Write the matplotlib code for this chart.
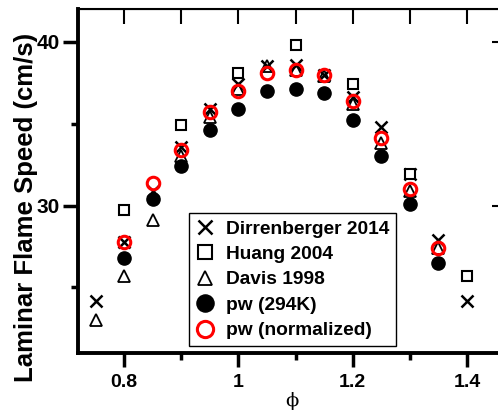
import matplotlib.pyplot as plt
import numpy as np

plt.rcParams['font.family'] = ['Liberation Sans', 'DejaVu Sans']
plt.rcParams['font.weight'] = 'bold'

# equivalence ratio
phi_all = [0.75, 0.8, 0.85, 0.9, 0.95, 1.0, 1.05, 1.1, 1.15, 1.2, 1.25, 1.3, 1.35, 1.4]
dirrenberger = [24.2, 27.8, 30.9, 33.6, 35.9, 37.4, 38.5, 38.6, 38.0, 36.6, 34.8, 31.9, 27.9, 24.2]

phi_huang = [0.8, 0.9, 1.0, 1.1, 1.2, 1.3, 1.4]
huang = [29.7, 34.9, 38.1, 39.8, 37.4, 31.9, 25.7]

phi_davis = [0.75, 0.8, 0.85, 0.9, 0.95, 1.0, 1.05, 1.1, 1.15, 1.2, 1.25, 1.3, 1.35]
davis = [23.0, 25.7, 29.1, 33.0, 35.4, 37.1, 38.5, 38.3, 37.9, 36.2, 33.8, 30.9, 27.4]

phi_pw = [0.8, 0.85, 0.9, 0.95, 1.0, 1.05, 1.1, 1.15, 1.2, 1.25, 1.3, 1.35]
pw_294 = [26.8, 30.4, 32.4, 34.6, 35.9, 37.0, 37.1, 36.9, 35.2, 33.0, 30.1, 26.5]
pw_norm = [27.8, 31.4, 33.4, 35.7, 37.0, 38.1, 38.3, 38.0, 36.4, 34.1, 31.0, 27.4]

fig = plt.figure(figsize=(4.98, 4.12), dpi=100)
ax = fig.add_axes([78/498, 59/412, 422/498, 344/412])

ax.plot(phi_pw, pw_294, "o", color="black", ms=9.5, label="pw (294K)", zorder=3)
ax.plot(phi_all, dirrenberger, "x", color="black", ms=8, mew=1.8, label="Dirrenberger 2014", zorder=4)
ax.plot(phi_huang, huang, "s", mfc="white", mec="black", ms=7.5, mew=1.5, label="Huang 2004", zorder=4)
ax.plot(phi_davis, davis, "^", mfc="none", mec="black", ms=8, mew=1.3, label="Davis 1998", zorder=4)
ax.plot(phi_pw, pw_norm, "o", mfc="none", mec="red", ms=9, mew=2.2, label="pw (normalized)", zorder=5)

ax.set_xlim(0.719, 1.458)
ax.set_ylim(21.0, 42.0)
ax.set_xticks([0.8, 1.0, 1.2, 1.4])
ax.set_xticklabels(["0.8", "1", "1.2", "1.4"])
ax.set_xticks([0.9, 1.1, 1.3], minor=True)
ax.set_yticks([30, 40])
ax.set_yticks([25, 35], minor=True)

ax.tick_params(axis="x", which="major", direction="out", length=10, width=2.5, labelsize=14, pad=5)
ax.tick_params(axis="x", which="minor", direction="out", length=5, width=2.5)
ax.tick_params(axis="y", which="major", direction="out", length=11, width=2.5, labelsize=15, pad=2)
ax.tick_params(axis="y", which="minor", direction="out", length=5, width=2.5)

for s in ["left", "bottom"]:
    ax.spines[s].set_linewidth(2.8)
for s in ["top", "right"]:
    ax.spines[s].set_linewidth(1.5)

# mirrored ticks on top and right pointing inward
top = ax.secondary_xaxis("top")
top.set_xticks([0.8, 0.9, 1.0, 1.1, 1.2, 1.3, 1.4])
top.tick_params(direction="in", length=11, width=1.5, labeltop=False)
top.tick_params(which="minor", length=0)
right = ax.secondary_yaxis("right")
right.set_yticks([30, 40])
right.tick_params(direction="in", length=6, width=1.5, labelright=False)
right.tick_params(which="minor", length=0)

handles, labels = ax.get_legend_handles_labels()
order = [1, 2, 3, 0, 4]
leg = ax.legend([handles[i] for i in order], [labels[i] for i in order],
                loc="lower left", bbox_to_anchor=(0.263, 0.02), borderaxespad=0,
                fontsize=13.8, markerscale=1.3, handlelength=1.0, handletextpad=0.6,
                labelspacing=0.42, borderpad=0.35, fancybox=False, framealpha=1,
                edgecolor="black")
leg.get_frame().set_linewidth(1.0)

fig.text(33/498, 1 - 207/412, "Laminar Flame Speed (cm/s)", rotation=90,
         rotation_mode="anchor", ha="center", va="baseline",
         fontsize=18.5, fontweight="bold")
fig.text(292/498, 1 - 401/412, "ϕ", ha="center", va="center", fontsize=14,
         fontweight="normal", family="DejaVu Serif")

fig.savefig("out.png", dpi=100)
